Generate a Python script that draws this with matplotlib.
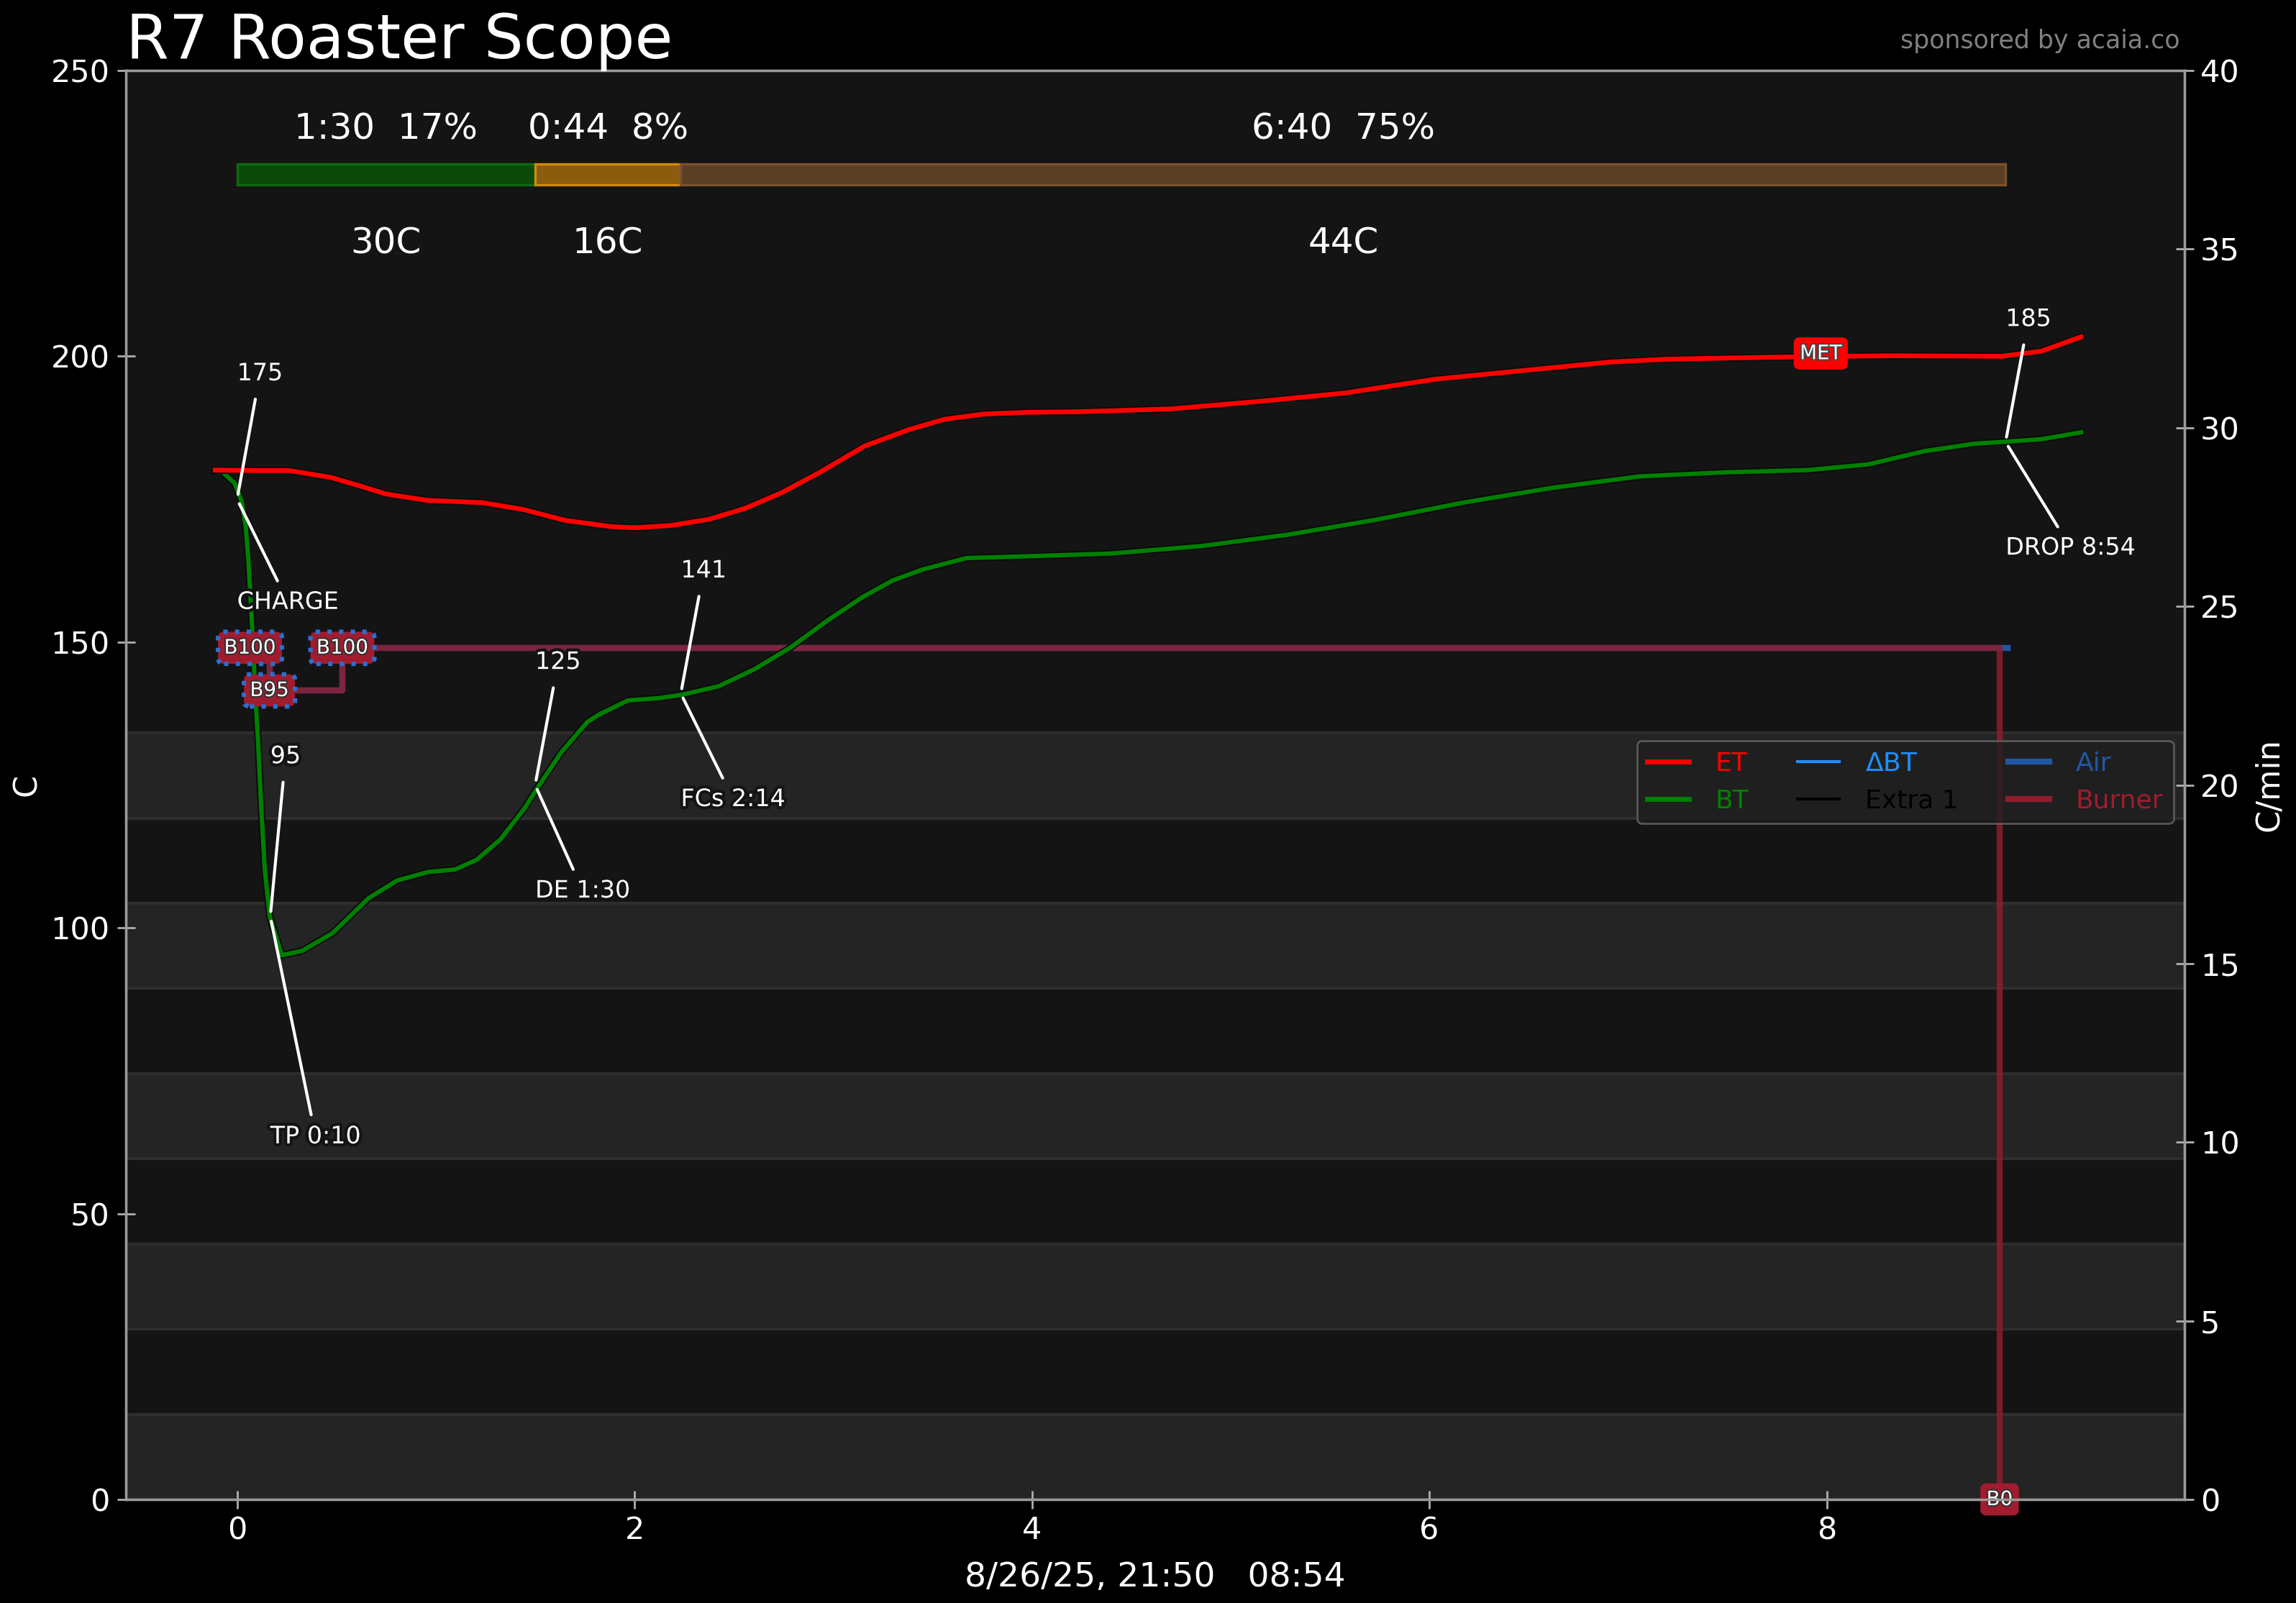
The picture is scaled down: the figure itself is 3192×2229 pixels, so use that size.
import numpy as np
import matplotlib
matplotlib.use('Agg')
import matplotlib.pyplot as plt
import matplotlib.patheffects as pe
from matplotlib.lines import Line2D

# roast profile (time in minutes, temperature in C)
et_time = [-0.11, 0.1, 0.265, 0.473, 0.62, 0.75, 0.957, 1.233, 1.44, 1.65, 1.882, 2.002, 2.182,
           2.377, 2.557, 2.738, 2.933, 3.158, 3.383, 3.563, 3.757, 3.982, 4.234, 4.7, 5.14, 5.58,
           6.03, 6.47, 6.91, 7.2, 7.49, 7.84, 8.32, 8.88, 9.08, 9.28]
et_temp = [180.1, 180, 180, 178.8, 177.3, 175.9, 174.8, 174.4, 173.2, 171.3, 170.2, 170.0, 170.4,
           171.5, 173.4, 176.1, 179.7, 184.3, 187.2, 189.0, 189.9, 190.2, 190.3, 190.8, 192.1, 193.6,
           196, 197.5, 199, 199.5, 199.7, 199.9, 200.1, 200, 200.9, 203.4]

bt_time = [-0.06, -0.012, 0.023, 0.044, 0.058, 0.075, 0.092, 0.105, 0.12, 0.139, 0.164, 0.225,
           0.328, 0.481, 0.662, 0.806, 0.964, 1.096, 1.205, 1.326, 1.448, 1.508, 1.629, 1.70, 1.762,
           1.82, 1.967, 2.124, 2.24, 2.425, 2.606, 2.787, 2.968, 3.149, 3.3, 3.45, 3.67, 3.96, 4.4,
           4.85, 5.29, 5.73, 6.17, 6.62, 7.06, 7.49, 7.906, 8.21, 8.49, 8.74, 8.92, 9.08, 9.28]
bt_temp = [179.3, 177.8, 174.6, 170, 163.7, 153.2, 140.7, 133, 122, 110.4, 102, 95.2,
           96.0, 99.1, 105.2, 108.3, 109.8, 110.2, 111.9, 115.5, 121, 124.3, 130.6, 133.5, 136,
           137.3, 139.8, 140.2, 140.8, 142.3, 145.3, 149.1, 153.7, 157.9, 160.8, 162.7, 164.7, 165,
           165.5, 166.8, 168.8, 171.4, 174.4, 177, 179, 179.7, 180.1, 181.1, 183.4, 184.7, 185.1,
           185.5, 186.7]

# phases (drying / maillard / development)
phase_start = [0.0, 1.5, 2.233]
phase_end = [1.5, 2.233, 8.9]
phase_time_labels = ['1:30  17%', '0:44  8%', '6:40  75%']
phase_rise_labels = ['30C', '16C', '44C']
phase_fill = ['#0b4a0b', '#8a5c0e', '#5a3e26']
phase_edge = ['#0e6a0e', '#d08a10', '#7a5230']

# roast events
event_names = ['CHARGE', 'TP 0:10', 'DE 1:30', 'FCs 2:14', 'DROP 8:54']
event_time = [0.0, 0.167, 1.5, 2.233, 8.9]
event_temp = [175, 102, 125, 141, 185]
event_temp_labels = ['175', '95', '125', '141', '185']

# burner / air slider events (percent)
burner_time = [0.065, 0.163, 0.53, 8.87]
burner_value = [100, 95, 100, 0]
burner_labels = ['B100', 'B95', 'B100', 'B0']
air_time = [0.065, 0.163, 0.53, 8.91]
air_value = [100, 95, 100, 100]
event_scale = 1.49  # slider percent -> temperature axis

met_time = 7.97
met_temp = 200.5

bands = [(0, 14.9), (29.8, 44.7), (59.6, 74.5), (89.4, 104.3), (119.2, 134.1)]

bg = '#141414'
spine_col = '#9a9a9a'

fig = plt.figure(figsize=(15.96, 11.145), dpi=200, facecolor='black')
ax = fig.add_axes([0.0548, 0.0646, 0.8966, 0.8914])
ax.set_facecolor(bg)
ax2 = ax.twinx()

ax.set_xlim(-0.56, 9.80)
ax.set_ylim(0, 250)
ax2.set_ylim(0, 40)
ax.set_xticks([0, 2, 4, 6, 8])
ax.set_yticks([0, 50, 100, 150, 200, 250])
ax2.set_yticks(range(0, 45, 5))

for a in (ax, ax2):
    for s in a.spines.values():
        s.set_color(spine_col)
        s.set_linewidth(1.2)
    a.tick_params(colors='#b0b0b0', labelcolor='white', labelsize=15.5, direction='inout',
                  length=9, width=1)

for lo, hi in bands:
    ax.axhspan(lo, hi, facecolor='#242424', edgecolor='#2e2e2e', linewidth=1.5, zorder=0.5)

# phase bar
ytop = 231.8
for i in range(len(phase_start)):
    w = phase_end[i] - phase_start[i]
    ax.barh(ytop, w, left=phase_start[i], height=3.6, color=phase_fill[i],
            edgecolor=phase_edge[i], linewidth=1.2, zorder=2)
    cx = phase_start[i] + w / 2
    ax.text(cx, 239.8, phase_time_labels[i], color='white', fontsize=18, ha='center', va='center')
    ax.text(cx, 219.8, phase_rise_labels[i], color='white', fontsize=18, ha='center', va='center')

# slider lines
ax.step(air_time, np.array(air_value) * event_scale, where='post', color='#1f57a5', lw=3, zorder=2)
ax.step(burner_time, np.array(burner_value) * event_scale, where='post', color='#8f1d2c',
        lw=3, alpha=0.85, zorder=2.1)

outline = [pe.withStroke(linewidth=3, foreground=bg)]
line_edge = [pe.Stroke(linewidth=3.6, foreground='#0a0a0a'), pe.Normal()]

ax.plot(bt_time, bt_temp, color='#008000', lw=2.2, zorder=3, path_effects=line_edge)
ax.plot(et_time, et_temp, color='#ff0000', lw=2.4, zorder=3, path_effects=line_edge)

# event annotations
temp_dy = [22, 28, 21.5, 21.5, 21.5]
name_dy = [-18, -38.5, -18.5, -18.5, -18.5]
for i in range(len(event_names)):
    t, T = event_time[i], event_temp[i]
    ax.annotate(event_temp_labels[i], xy=(t, T), xytext=(t, T + temp_dy[i]), color='white',
                fontsize=12, ha='left', va='center', zorder=5, path_effects=outline,
                arrowprops=dict(arrowstyle='-', color='white', lw=1.5, shrinkA=5, shrinkB=2.5))
    ax.annotate(event_names[i], xy=(t, T), xytext=(t, T + name_dy[i]), color='white',
                fontsize=12, ha='left', va='center', zorder=5, path_effects=outline,
                arrowprops=dict(arrowstyle='-', color='white', lw=1.5, shrinkA=3, shrinkB=2.5))

# slider event labels
for i in range(len(burner_labels)):
    v = burner_value[i] * event_scale
    if burner_value[i] > 0:
        ax.text(burner_time[i], v, burner_labels[i], fontsize=10, ha='center', va='center',
                color='white', zorder=6, clip_on=False,
                path_effects=[pe.withStroke(linewidth=1.5, foreground='#333333')],
                bbox=dict(boxstyle='round,pad=0.3', fc='#a01c2e', ec='#2a6fd0', lw=2.2, ls=':'))
    else:
        ax.text(burner_time[i], v, burner_labels[i], fontsize=10, ha='center', va='center',
                color='white', zorder=6, clip_on=False,
                path_effects=[pe.withStroke(linewidth=1.5, foreground='#333333')],
                bbox=dict(boxstyle='round,pad=0.3', fc='#a01c2e', ec='none'))

ax.text(met_time, met_temp, 'MET', fontsize=10, ha='center', va='center', color='white', zorder=6,
        path_effects=[pe.withStroke(linewidth=1.5, foreground='#444444')],
        bbox=dict(boxstyle='round,pad=0.3', fc='#ff0000', ec='none'))

# legend
handles = [Line2D([], [], color='#ff0000', lw=2.5), Line2D([], [], color='#008000', lw=2.5),
           Line2D([], [], color='#1e90ff', lw=1.5), Line2D([], [], color='black', lw=1.5),
           Line2D([], [], color='#1f57a5', lw=3), Line2D([], [], color='#8f1d2c', lw=3)]
names = ['ET', 'BT', '$\\Delta$BT', 'Extra 1', 'Air', 'Burner']
text_cols = ['#ff0000', '#008000', '#1e90ff', 'black', '#1f57a5', '#a01c2e']
leg = ax2.legend(handles, names, ncol=3, loc='upper right', bbox_to_anchor=(1.001, 0.540),
                 fontsize=13, frameon=True, facecolor='#1e1e1e', edgecolor='#666666',
                 framealpha=0.8, handlelength=1.6, columnspacing=1.9, handletextpad=1.0,
                 labelspacing=0.5)
for txt, c in zip(leg.get_texts(), text_cols):
    txt.set_color(c)

ax.set_ylabel('C', color='white', fontsize=16, labelpad=4)
ax2.set_ylabel('C/min', color='white', fontsize=16, labelpad=7)
ax.set_xlabel('8/26/25, 21:50   08:54', color='white', fontsize=17, labelpad=8)

fig.text(0.0548, 0.9637, 'R7 Roaster Scope', color='white', fontsize=31, ha='left', va='baseline')
fig.text(0.9496, 0.970, 'sponsored by acaia.co', color='#808080', fontsize=12.5, ha='right',
         va='baseline')

fig.savefig('out.png', dpi=200, facecolor='black')
